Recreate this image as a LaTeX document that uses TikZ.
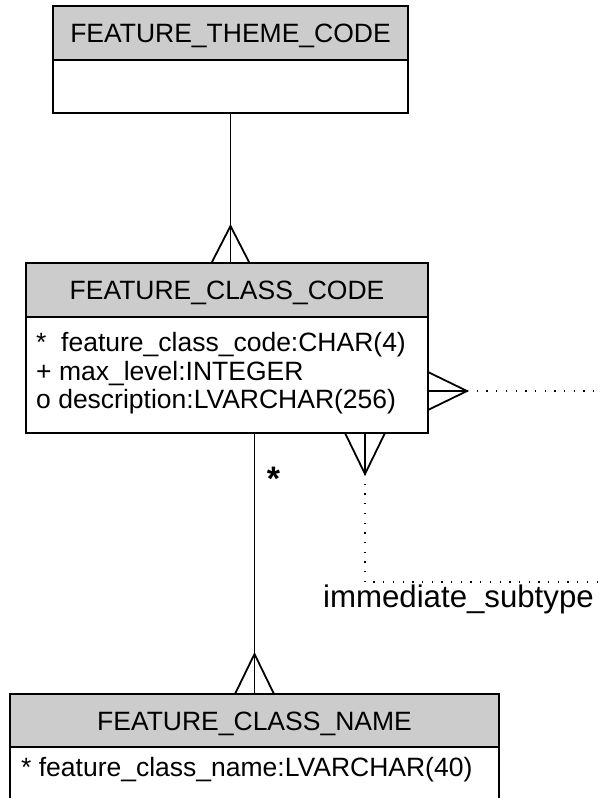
\documentclass[tikz,border=0pt]{standalone}
\usepackage{fontspec}
\setmainfont{Liberation Sans}
\usetikzlibrary{calc}
\begin{document}
\begin{tikzpicture}[x=1pt,y=-1pt,
  box/.style={draw=black, line width=2pt, anchor=north west, inner sep=0pt, outer sep=0pt},
  hdr/.style={box, fill=black!20, font=\fontsize{26.5}{30}\selectfont, text height=19pt, text depth=0pt},
  bodybox/.style={box, fill=white},
  attr/.style={anchor=base west, inner sep=0pt, font=\fontsize{26.5}{30}\selectfont},
  conn/.style={line width=1.8pt},
  selfrel/.style={line width=1.4pt, dash pattern=on 1.3pt off 8.4pt},
]
\useasboundingbox (0,0) rectangle (600,798);

% entities
\node[hdr, minimum width=355pt, minimum height=54pt] (themeH) at (53,6) {FEATURE\_THEME\_CODE};
\node[bodybox, minimum width=355pt, minimum height=53pt] (themeB) at (themeH.south west) {};

\node[hdr, minimum width=402pt, minimum height=54pt] (classH) at (26,263) {FEATURE\_CLASS\_CODE};
\node[bodybox, minimum width=402pt, minimum height=116pt] (classB) at (classH.south west) {};

\node[hdr, minimum width=489pt, minimum height=53pt] (nameH) at (10,694) {FEATURE\_CLASS\_NAME};
\node[bodybox, minimum width=489pt, minimum height=120pt] (nameB) at (nameH.south west) {};

% attributes
\node[attr] (a1) at (36,351) {*\ \ feature\_class\_code:CHAR(4)};
\node[attr] (a2) at (36,380) {+ max\_level:INTEGER};
\node[attr] (a3) at (36,408) {o description:LVARCHAR(256)};
\node[attr] (a4) at (21,776) {* feature\_class\_name:LVARCHAR(40)};

% theme -> class
\coordinate (f1) at (themeB.south |- classH.north);
\draw[conn] (themeB.south) -- (f1);
\draw[conn] ($(f1)+(-19,0)$) -- ($(f1)+(0,-37)$) -- ($(f1)+(19,0)$);

% class -> name
\coordinate (f2s) at (nameH.north |- classB.south);
\draw[conn] (f2s) -- (nameH.north);
\draw[conn] ($(nameH.north)+(-19.5,0)$) -- ($(nameH.north)+(0,-40)$) -- ($(nameH.north)+(19.5,0)$);
\node[anchor=base, inner sep=0pt, font=\fontsize{34}{34}\selectfont\bfseries] (star) at (273.5,490) {*};

% self relationship
\coordinate (sr) at ($(classB.east)+(0,16)$);
\coordinate (srA) at ($(sr)+(39,0)$);
\coordinate (srEnd) at (600,391);
\draw[conn] (sr) -- (srA);
\draw[conn] ($(sr)+(0,-19)$) -- (srA) -- ($(sr)+(0,19)$);
\draw[selfrel] (srA) -- (srEnd);

\coordinate (sb) at ($(classB.south)+(138,0)$);
\coordinate (sbA) at ($(sb)+(0,41)$);
\coordinate (sbC) at ($(sbA)+(0,108)$);
\coordinate (sbEnd) at (600,582);
\draw[conn] (sb) -- (sbA);
\draw[conn] ($(sb)+(-20,0)$) -- (sbA) -- ($(sb)+(20,0)$);
\draw[selfrel] (sbA) -- (sbC) -- (sbEnd);
\node[anchor=base west, inner sep=0pt, font=\fontsize{31.2}{32}\selectfont] (role) at (323,607) {immediate\_subtype};
\end{tikzpicture}
\end{document}
